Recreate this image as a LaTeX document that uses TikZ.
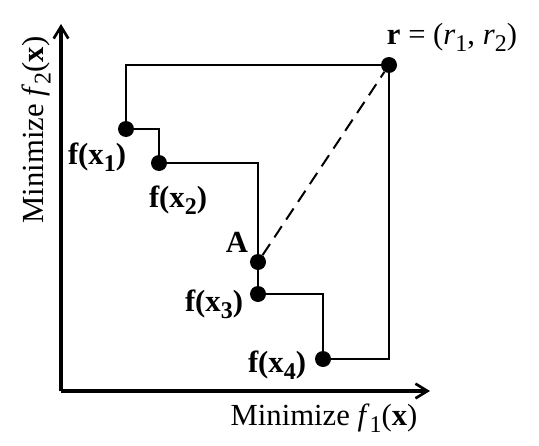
\documentclass[tikz,border=0pt]{standalone}
\usepackage{fontspec}
\setmainfont{Liberation Serif}
\usepackage{tikz}
\usetikzlibrary{arrows.meta,positioning}
\newcommand{\lowsub}[1]{\raisebox{-0.55ex}{\fontsize{18}{20}\selectfont #1}}

\begin{document}
\begin{tikzpicture}[
x=0.75pt,y=-0.75pt,
every node/.style={font=\fontsize{23}{27}\selectfont},
pt/.style={circle,fill=black,inner sep=0pt,minimum size=12pt},
lbl/.style={anchor=base,inner sep=0pt},
front/.style={line width=1.5pt},
ax/.style={line width=2.3pt,-{Straight Barb[length=9pt,width=11pt,line width=2pt]}}
]
\useasboundingbox (0,0) rectangle (539,446);
% axes
\coordinate (o) at (61,391);
\coordinate (ytip) at (61,24);
\coordinate (xtip) at (430,391);
\draw[ax] (o) -- (ytip);
\draw[ax] (o) -- (xtip);
\node[lbl] (xlab) at (324,425) {Minimize \textit{f}\lowsub{1}(\textbf{x})};
\node[lbl,rotate=90] (ylab) at (43,130) {Minimize \textit{f}\lowsub{2}(\textbf{x})};

% points
\node[pt] (f1) at (126,129) {};
\node[pt] (f2) at (159,163) {};
\node[pt] (A) at (258,262) {};
\node[pt] (f3) at (258,294) {};
\node[pt] (f4) at (323,359) {};
\node[pt] (r) at (389,65) {};

\node[lbl] (f1lab) at (97,164) {\textbf{f(x\lowsub{1})}};
\node[lbl] (f2lab) at (178,207) {\textbf{f(x\lowsub{2})}};
\node[lbl] (Alab) at (237,252) {\textbf{A}};
\node[lbl] (f3lab) at (214,311) {\textbf{f(x\lowsub{3})}};
\node[lbl] (f4lab) at (277,372) {\textbf{f(x\lowsub{4})}};
\node[lbl] (rlab) at (452,44) {\textbf{r} = (\textit{r}\lowsub{1}, \textit{r}\lowsub{2})};

% attained front and reference box
\draw[front] (f1) |- (r);
\draw[front] (f1) -| (f2);
\draw[front] (f2) -| (A);
\draw[front] (A) -- (f3);
\draw[front] (f3) -| (f4);
\draw[front] (f4) -| (r);
\draw[front,dash pattern=on 10pt off 6pt] (A) -- (r);
\end{tikzpicture}
\end{document}
